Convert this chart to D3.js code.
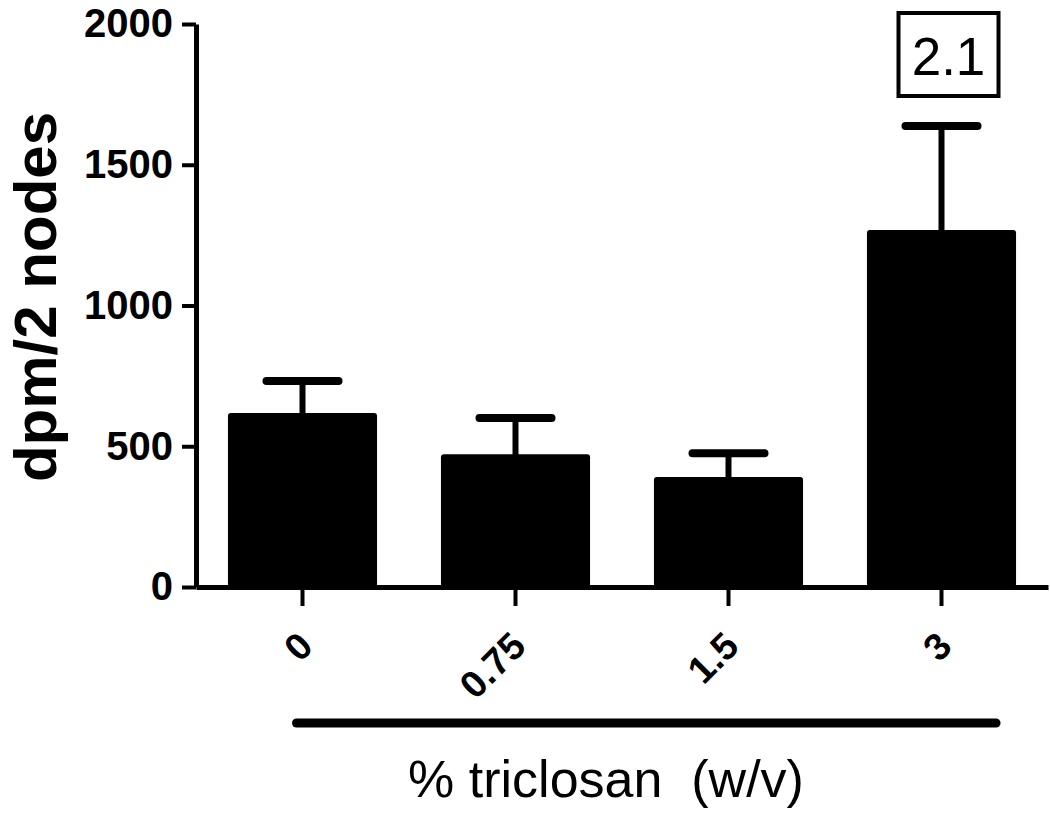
<!DOCTYPE html>
<html>
<head>
<meta charset="utf-8">
<script src="https://cdn.jsdelivr.net/npm/d3@7"></script>
<style>
    body { margin: 0; background: #fff; }
    svg { display: block; font-family: "Liberation Sans", Arial, sans-serif; }
</style>
</head>
<body>
<div id="chart"></div>
<script>
// data
const categories = ["0", "0.75", "1.5", "3"];
const means = [618, 472, 391, 1268];
const sems = [114, 128, 84, 370];
const yTicks = [0, 500, 1000, 1500, 2000];
const foldLabel = "2.1";

const W = 1050, H = 824;
const svg = d3.select("#chart").append("svg")
    .attr("width", W)
    .attr("height", H);

const x0 = 196, x1 = 1048, yBase = 587, yTop = 24;

const xScale = d3.scaleBand()
    .domain(categories)
    .range([x0, x1])
    .paddingInner(0.3)
    .paddingOuter(0.15);

const yScale = d3.scaleLinear()
    .domain([0, 2000])
    .range([yBase, yTop]);

// bars
svg.selectAll(".bar")
    .data(categories)
    .enter().append("rect")
    .attr("class", "bar")
    .attr("x", d => xScale(d))
    .attr("y", (d, i) => yScale(means[i]))
    .attr("width", xScale.bandwidth())
    .attr("height", (d, i) => yBase - yScale(means[i]))
    .attr("rx", 3)
    .attr("fill", "#000");

// error bars (upper only)
let errG = svg.selectAll(".err")
    .data(categories)
    .enter().append("g")
    .attr("class", "err");

errG.append("line")
    .attr("x1", d => xScale(d) + xScale.bandwidth() / 2)
    .attr("x2", d => xScale(d) + xScale.bandwidth() / 2)
    .attr("y1", (d, i) => yScale(means[i]) + 2)
    .attr("y2", (d, i) => yScale(means[i] + sems[i]))
    .attr("stroke", "#000")
    .attr("stroke-width", 6);

errG.append("line")
    .attr("x1", d => xScale(d) + xScale.bandwidth() / 2 - 36)
    .attr("x2", d => xScale(d) + xScale.bandwidth() / 2 + 36)
    .attr("y1", (d, i) => yScale(means[i] + sems[i]))
    .attr("y2", (d, i) => yScale(means[i] + sems[i]))
    .attr("stroke", "#000")
    .attr("stroke-width", 8)
    .attr("stroke-linecap", "round");

// y axis
const yAxis = d3.axisLeft(yScale)
    .tickValues(yTicks)
    .tickSize(14)
    .tickSizeOuter(0)
    .tickPadding(9)
    .tickFormat(d3.format("d"));

const yAxisG = svg.append("g")
    .attr("class", "y-axis")
    .attr("transform", "translate(" + x0 + ",0)")
    .call(yAxis);

yAxisG.select("path.domain")
    .attr("stroke", "#000")
    .attr("stroke-width", 5);
yAxisG.selectAll(".tick line")
    .attr("stroke", "#000")
    .attr("stroke-width", 4);
yAxisG.selectAll(".tick text")
    .attr("fill", "#000")
    .style("font-size", "40px")
    .style("font-weight", "bold")
    .style("font-family", "'Liberation Sans', Arial, sans-serif");

// x axis
const xAxis = d3.axisBottom(xScale)
    .tickSize(19)
    .tickSizeOuter(0);

const xAxisG = svg.append("g")
    .attr("class", "x-axis")
    .attr("transform", "translate(0," + yBase + ")")
    .call(xAxis);

xAxisG.select("path.domain")
    .attr("stroke", "#000")
    .attr("stroke-width", 5);
xAxisG.selectAll(".tick line")
    .attr("stroke", "#000")
    .attr("stroke-width", 4);
xAxisG.selectAll(".tick text")
    .attr("fill", "#000")
    .attr("text-anchor", "end")
    .attr("x", 0)
    .attr("y", 0)
    .attr("dy", "0.35em")
    .attr("transform", "translate(3,52) rotate(-45)")
    .style("font-size", "38px")
    .style("font-weight", "bold")
    .style("font-family", "'Liberation Sans', Arial, sans-serif");

// underline spanning the triclosan groups
svg.append("line")
    .attr("x1", xScale("0") + xScale.bandwidth() / 2 - 6)
    .attr("x2", xScale("3") + xScale.bandwidth() - 20)
    .attr("y1", 723)
    .attr("y2", 723)
    .attr("stroke", "#000")
    .attr("stroke-width", 9)
    .attr("stroke-linecap", "round");

// axis titles
svg.append("text")
    .attr("x", 606)
    .attr("y", 797)
    .attr("text-anchor", "middle")
    .style("font-size", "52px")
    .attr("xml:space", "preserve")
    .text("% triclosan  (w/v)");

svg.append("text")
    .attr("transform", "translate(56,297) rotate(-90)")
    .attr("text-anchor", "middle")
    .style("font-size", "60px")
    .style("font-weight", "bold")
    .text("dpm/2 nodes");

// fold-change box above the last bar
const boxCx = xScale("3") + xScale.bandwidth() / 2 + 7;
svg.append("rect")
    .attr("x", boxCx - 50)
    .attr("y", 13)
    .attr("width", 100)
    .attr("height", 83)
    .attr("fill", "#fff")
    .attr("stroke", "#000")
    .attr("stroke-width", 4);

svg.append("text")
    .attr("x", boxCx)
    .attr("y", 75)
    .attr("text-anchor", "middle")
    .style("font-size", "53px")
    .text(foldLabel);
</script>
</body>
</html>
